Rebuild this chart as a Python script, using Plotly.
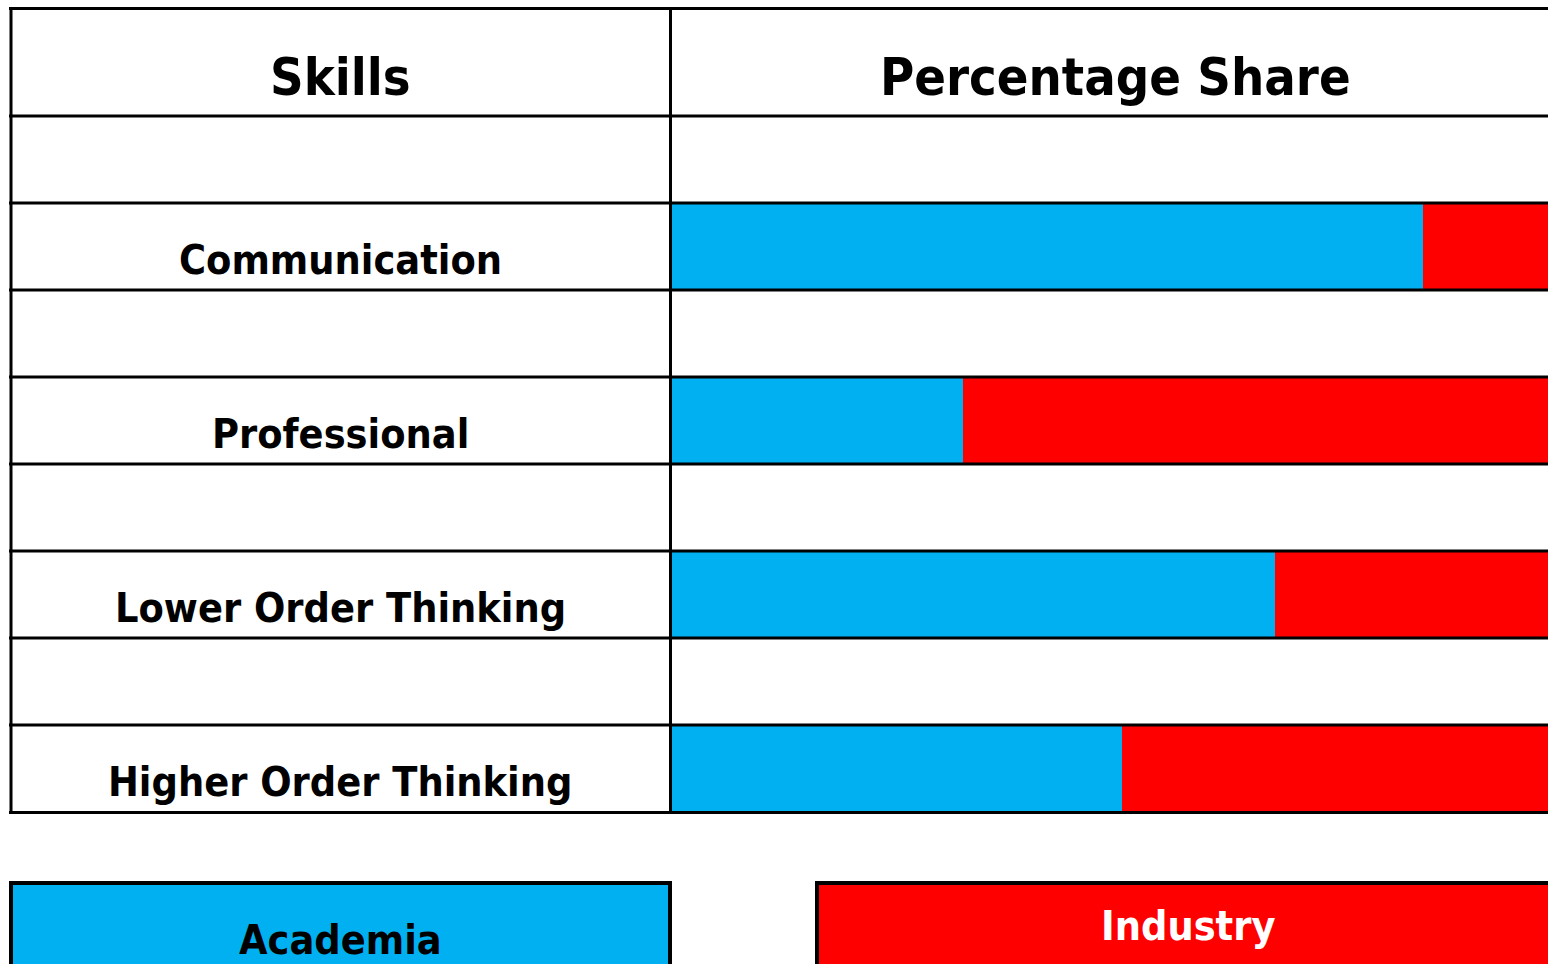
import plotly.graph_objects as go

# data
skills = ["Communication", "Professional", "Lower Order Thinking", "Higher Order Thinking"]
academia = [84.6, 32.9, 68.0, 50.8]
industry = [15.4, 67.1, 32.0, 49.2]
series_names = ["Academia", "Industry"]
series_colors = ["#00B0F0", "#FF0000"]
headers = ["Skills", "Percentage Share"]

W, H = 1548, 964
FONT = "DejaVu Sans Condensed, Liberation Sans Narrow, sans-serif"


def fx(px):
    return px / W


def fy(py):
    return 1 - py / H


# each skill sits in every second row of an 8-row table body
ypos = [6.5 - 2 * i for i in range(len(skills))]

fig = go.Figure()
for name, vals, col in zip(series_names, [academia, industry], series_colors):
    fig.add_trace(go.Bar(
        y=ypos, x=vals, orientation="h", name=name, width=1,
        marker=dict(color=col, line=dict(width=0)),
        showlegend=False, hoverinfo="x+name",
    ))

shapes = []
line = dict(color="black", width=3)
# horizontal grid lines
for py in [8.5, 116, 203, 290, 377, 464, 551, 638, 725, 812.5]:
    shapes.append(dict(type="line", xref="paper", yref="paper",
                       x0=fx(9), x1=fx(1560), y0=fy(py), y1=fy(py),
                       line=line, layer="above"))
# vertical lines
for px in [11, 670.5]:
    shapes.append(dict(type="line", xref="paper", yref="paper",
                       x0=fx(px), x1=fx(px), y0=fy(7), y1=fy(814),
                       line=line, layer="above"))
# legend boxes (run off the bottom of the page)
shapes.append(dict(type="rect", xref="paper", yref="paper",
                   x0=fx(11), x1=fx(670), y0=fy(1010), y1=fy(883),
                   fillcolor=series_colors[0], line=dict(color="black", width=4)))
shapes.append(dict(type="rect", xref="paper", yref="paper",
                   x0=fx(817), x1=fx(1560), y0=fy(1010), y1=fy(883),
                   fillcolor=series_colors[1], line=dict(color="black", width=4)))

ann = []
ann.append(dict(text="<b>" + headers[0] + "</b>", x=fx(340), y=fy(77),
                font=dict(size=52, color="black", family=FONT)))
ann.append(dict(text="<b>" + headers[1] + "</b>", x=fx(1115), y=fy(77),
                font=dict(size=52, color="black", family=FONT)))
for s, y in zip(skills, ypos):
    ann.append(dict(text="<b>" + s + "</b>", x=fx(340), xref="paper", yref="y",
                    y=y - 0.5 + 30 / 87,
                    font=dict(size=41, color="black", family=FONT)))
ann.append(dict(text="<b>" + series_names[0] + "</b>", x=fx(340), y=fy(940),
                font=dict(size=41, color="black", family=FONT)))
ann.append(dict(text="<b>" + series_names[1] + "</b>", x=fx(1188), y=fy(926),
                font=dict(size=41, color="white", family=FONT)))
for a in ann:
    a.setdefault("xref", "paper")
    a.setdefault("yref", "paper")
    a.update(showarrow=False, xanchor="center", yanchor="middle")

fig.update_layout(
    barmode="stack",
    width=W, height=H,
    margin=dict(l=0, r=0, t=0, b=0),
    paper_bgcolor="white", plot_bgcolor="white",
    xaxis=dict(domain=[fx(670), 1], range=[0, 100 * (W - 670) / 890],
               visible=False, fixedrange=True),
    yaxis=dict(domain=[fy(812), fy(116)], range=[0, 8],
               visible=False, fixedrange=True),
    shapes=shapes, annotations=ann,
)

# page margin off so the figure sits at the top-left corner
fig.write_html("out.html", config={"displayModeBar": False},
               post_script="document.body.style.margin='0';")
